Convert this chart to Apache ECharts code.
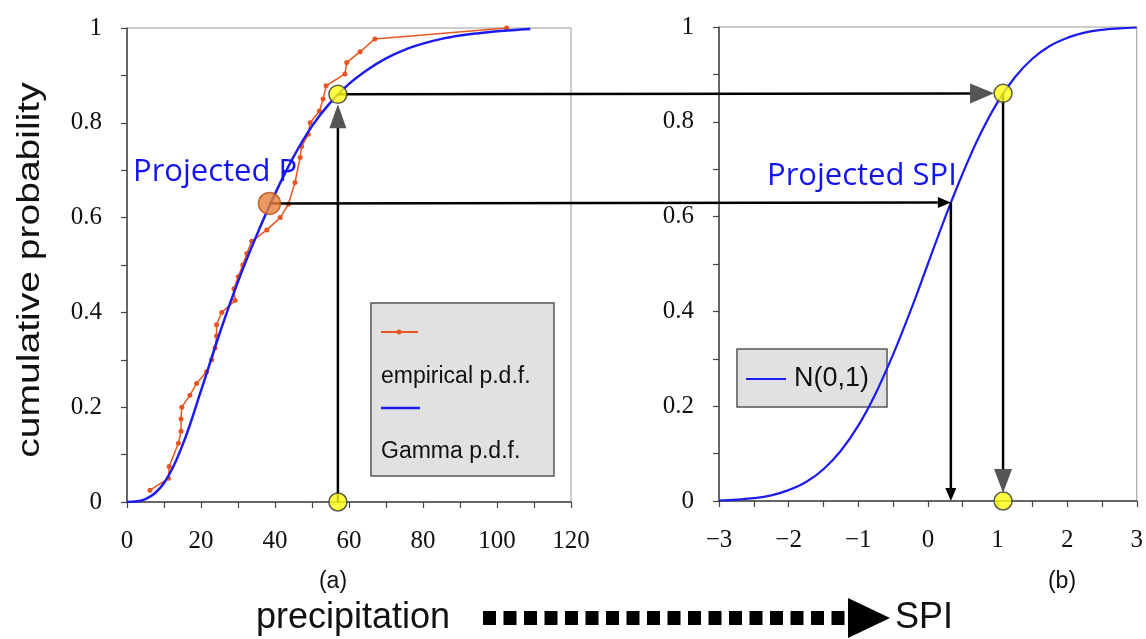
<!DOCTYPE html>
<html>
<head>
<meta charset="utf-8">
<script src="https://cdn.jsdelivr.net/npm/echarts@6/dist/echarts.min.js"></script>
<style>
  html, body { margin: 0; padding: 0; background: #fff; }
  #chart { width: 1146px; height: 639px; }
</style>
</head>
<body>
<div id="chart"></div>
<script>
// (a) precipitation -> cumulative probability
const gammaPrecip = [0, 5, 10, 15, 20, 25, 30, 35, 40, 45, 50, 55, 60, 65, 70, 75, 80, 85, 90, 95, 100, 105, 109]
const gammaCum = [0, 0.006, 0.04, 0.12, 0.235, 0.355, 0.465, 0.562, 0.65, 0.728, 0.793, 0.843, 0.882, 0.912, 0.936, 0.954, 0.967, 0.977, 0.984, 0.989, 0.993, 0.996, 0.998]

const empiricalPrecip = [6.2, 11.2, 11.4, 13.9, 14.6, 14.6, 14.8, 17, 18.8, 21.5, 22.9, 23.8, 24.2, 24.2, 25.6, 29.2, 28.9, 30.1, 31.3, 32.4, 33.7, 37.8, 41.4, 43.6, 45.4, 46.8, 47.2, 49, 49.5, 52, 53, 53.8, 58.9, 59.4, 63, 67, 102.6]
const empiricalCum = [0.025, 0.05, 0.075, 0.124, 0.149, 0.175, 0.2, 0.225, 0.25, 0.275, 0.3, 0.325, 0.35, 0.374, 0.4, 0.425, 0.45, 0.476, 0.5, 0.524, 0.55, 0.574, 0.6, 0.628, 0.674, 0.727, 0.75, 0.776, 0.8, 0.825, 0.85, 0.878, 0.903, 0.927, 0.95, 0.977, 1.0]

// (b) SPI -> cumulative probability
const spiValues = [-3, -2.75, -2.5, -2.25, -2, -1.75, -1.5, -1.25, -1, -0.75, -0.5, -0.25, 0, 0.25, 0.5, 0.75, 1, 1.25, 1.5, 1.75, 2, 2.25, 2.5, 2.75, 3]
const normalCum = [0.001, 0.003, 0.006, 0.012, 0.023, 0.04, 0.067, 0.106, 0.159, 0.227, 0.309, 0.401, 0.5, 0.599, 0.691, 0.773, 0.841, 0.894, 0.933, 0.96, 0.977, 0.988, 0.994, 0.997, 0.999]

// observed and projected points [precipitation, cumulative probability, SPI]
const observedPoint = [57, 0.86, 1.08]
const projectedPoint = [38.5, 0.63, 0.33]

const precipTicks = [0, 120, 20]
const spiTicks = [-3, 3, 1]
const cumTicks = [0, 1, 0.2]

const serif = 'Liberation Serif'
const sans = 'Liberation Sans'

const chart = echarts.init(document.getElementById('chart'))

const axisCommon = {
  type: 'value',
  axisLine: { show: true, onZero: false, lineStyle: { color: '#444', width: 1.5 } },
  axisTick: { show: true, inside: false, length: 6, lineStyle: { color: '#444', width: 1.2 } },
  minorTick: { show: true, splitNumber: 2, length: 6, lineStyle: { color: '#444', width: 1.2 } },
  splitLine: { show: false },
  axisLabel: { color: '#111', fontFamily: serif, fontSize: 25 },
}

const xLabel = { ...axisCommon.axisLabel, margin: 27, formatter: (v) => String(v).replace('-', '\u2212') }
const yLabel = { ...axisCommon.axisLabel, margin: 25 }

const zip = (xs, ys) => xs.map((x, i) => [x, ys[i]])

chart.setOption({
  animation: false,
  backgroundColor: '#fff',
  grid: [
    { left: 127, top: 28, width: 444, height: 474, show: true, borderColor: '#999', borderWidth: 1 },
    { left: 719, top: 27, width: 422, height: 474, show: true, borderColor: '#999', borderWidth: 1 },
  ],
  xAxis: [
    { ...axisCommon, gridIndex: 0, min: precipTicks[0], max: precipTicks[1], interval: precipTicks[2], axisLabel: xLabel },
    { ...axisCommon, gridIndex: 1, min: spiTicks[0], max: spiTicks[1], interval: spiTicks[2], axisLabel: xLabel },
  ],
  yAxis: [
    { ...axisCommon, gridIndex: 0, min: cumTicks[0], max: cumTicks[1], interval: cumTicks[2], axisLabel: yLabel },
    { ...axisCommon, gridIndex: 1, min: cumTicks[0], max: cumTicks[1], interval: cumTicks[2], axisLabel: yLabel },
  ],
  series: [
    {
      name: 'Gamma p.d.f.',
      type: 'line',
      xAxisIndex: 0,
      yAxisIndex: 0,
      smooth: 0.4,
      showSymbol: false,
      lineStyle: { color: '#1c1cf0', width: 2.5 },
      data: zip(gammaPrecip, gammaCum),
      z: 3,
    },
    {
      name: 'empirical p.d.f.',
      type: 'line',
      xAxisIndex: 0,
      yAxisIndex: 0,
      symbol: 'circle',
      symbolSize: 5,
      lineStyle: { color: '#ea5420', width: 1.5 },
      itemStyle: { color: '#ea5420' },
      data: zip(empiricalPrecip, empiricalCum),
      z: 2,
    },
    {
      name: 'N(0,1)',
      type: 'line',
      xAxisIndex: 1,
      yAxisIndex: 1,
      smooth: 0.4,
      showSymbol: false,
      lineStyle: { color: '#1c1cf0', width: 2.2 },
      data: zip(spiValues, normalCum),
      z: 3,
    },
    {
      type: 'scatter',
      xAxisIndex: 0,
      yAxisIndex: 0,
      symbolSize: 18,
      itemStyle: { color: '#ffff10', borderColor: '#333', borderWidth: 1.5 },
      data: [[observedPoint[0], observedPoint[1]], [observedPoint[0], 0]],
      z: 10,
    },
    {
      type: 'scatter',
      xAxisIndex: 0,
      yAxisIndex: 0,
      symbolSize: 22,
      itemStyle: { color: '#e8803a', borderColor: '#b5561d', borderWidth: 1.5 },
      data: [[projectedPoint[0], projectedPoint[1]]],
      z: 10,
    },
    {
      type: 'scatter',
      xAxisIndex: 1,
      yAxisIndex: 1,
      symbolSize: 18,
      itemStyle: { color: '#ffff10', borderColor: '#333', borderWidth: 1.5 },
      data: [[observedPoint[2], observedPoint[1]], [observedPoint[2], 0]],
      z: 10,
    },
  ],
})

// pixel helpers through the axes
const pxA = (x, y) => chart.convertToPixel({ xAxisIndex: 0, yAxisIndex: 0 }, [x, y])
const pxB = (x, y) => chart.convertToPixel({ xAxisIndex: 1, yAxisIndex: 1 }, [x, y])

// line from p0 to p1, head tip moved back by `gap` px from p1
const arrow = (p0, p1, gap, headLen, headW, headColor) => {
  const dx = p1[0] - p0[0]
  const dy = p1[1] - p0[1]
  const len = Math.hypot(dx, dy)
  const ux = dx / len
  const uy = dy / len
  const tip = [p1[0] - ux * gap, p1[1] - uy * gap]
  const base = [tip[0] - ux * headLen, tip[1] - uy * headLen]
  const nx = -uy * headW / 2
  const ny = ux * headW / 2
  return [
    {
      type: 'line',
      z: 5,
      shape: { x1: p0[0], y1: p0[1], x2: base[0] + ux * 2, y2: base[1] + uy * 2 },
      style: { stroke: '#000', lineWidth: 2.5 },
    },
    {
      type: 'polygon',
      z: 6,
      shape: { points: [tip, [base[0] + nx, base[1] + ny], [base[0] - nx, base[1] - ny]] },
      style: { fill: headColor },
    },
  ]
}

const obsTopA = pxA(observedPoint[0], observedPoint[1])
const obsBotA = pxA(observedPoint[0], 0)
const obsTopB = pxB(observedPoint[2], observedPoint[1])
const obsBotB = pxB(observedPoint[2], 0)
const projA = pxA(projectedPoint[0], projectedPoint[1])
const projB = pxB(projectedPoint[2], projectedPoint[1])
const projBotB = pxB(projectedPoint[2], 0)

const arrows = [
  ...arrow(obsBotA, obsTopA, 10, 24, 17, '#555'),
  ...arrow(obsTopA, obsTopB, 9, 24, 20, '#555'),
  ...arrow(obsTopB, obsBotB, 8, 24, 18, '#555'),
  ...arrow(projA, projB, 0, 13, 11, '#000'),
  ...arrow(projB, projBotB, 0, 13, 11, '#000'),
]

const legendA = {
  type: 'group',
  z: 20,
  children: [
    { type: 'rect', shape: { x: 371, y: 303, width: 183, height: 173 }, style: { fill: '#e1e1e1', stroke: '#555', lineWidth: 1.5 } },
    { type: 'line', shape: { x1: 381, y1: 332, x2: 418, y2: 332 }, style: { stroke: '#ea5420', lineWidth: 2 } },
    { type: 'circle', shape: { cx: 399, cy: 332, r: 2.5 }, style: { fill: '#ea5420' } },
    { type: 'text', x: 381, y: 377, style: { text: 'empirical p.d.f.', font: '23px ' + sans, fill: '#111', verticalAlign: 'middle' } },
    { type: 'line', shape: { x1: 381, y1: 408, x2: 420, y2: 408 }, style: { stroke: '#1c1cf0', lineWidth: 2.5 } },
    { type: 'text', x: 381, y: 452, style: { text: 'Gamma p.d.f.', font: '23px ' + sans, fill: '#111', verticalAlign: 'middle' } },
  ],
}

const legendB = {
  type: 'group',
  z: 20,
  children: [
    { type: 'rect', shape: { x: 737, y: 349, width: 150, height: 58 }, style: { fill: '#e1e1e1', stroke: '#555', lineWidth: 1.5 } },
    { type: 'line', shape: { x1: 746, y1: 379, x2: 786, y2: 379 }, style: { stroke: '#1c1cf0', lineWidth: 2 } },
    { type: 'text', x: 794, y: 379, style: { text: 'N(0,1)', font: '27px ' + sans, fill: '#111', verticalAlign: 'middle' } },
  ],
}

const labels = [
  { type: 'text', z: 20, x: 133, y: 172, style: { text: 'Projected P', font: '31px "Open Sans"', fill: '#1414f0', verticalAlign: 'middle' } },
  { type: 'text', z: 20, x: 767, y: 176, style: { text: 'Projected SPI', font: '31px "Open Sans"', fill: '#1414f0', verticalAlign: 'middle' } },
  {
    type: 'text', z: 20, x: 30, y: 270, rotation: Math.PI / 2, scaleX: 1.22,
    style: { text: 'cumulative probability', font: '32px ' + sans, fill: '#111', align: 'center', verticalAlign: 'middle' },
  },
  { type: 'text', z: 20, x: 333, y: 582, style: { text: '(a)', font: '23px ' + sans, fill: '#111', align: 'center', verticalAlign: 'middle' } },
  { type: 'text', z: 20, x: 1062, y: 582, style: { text: '(b)', font: '23px ' + sans, fill: '#111', align: 'center', verticalAlign: 'middle' } },
  { type: 'text', z: 20, x: 450, y: 618, style: { text: 'precipitation', font: '36px ' + sans, fill: '#111', align: 'right', verticalAlign: 'middle' } },
  { type: 'text', z: 20, x: 895, y: 618, style: { text: 'SPI', font: '36px ' + sans, fill: '#111', align: 'left', verticalAlign: 'middle' } },
  { type: 'line', z: 20, shape: { x1: 483, y1: 618, x2: 850, y2: 618 }, style: { stroke: '#000', lineWidth: 14, lineDash: [13, 7.5] } },
  { type: 'polygon', z: 20, shape: { points: [[848, 598], [848, 638], [890, 618]] }, style: { fill: '#000' } },
]

chart.setOption({ graphic: [...arrows, legendA, legendB, ...labels] })
</script>
</body>
</html>
